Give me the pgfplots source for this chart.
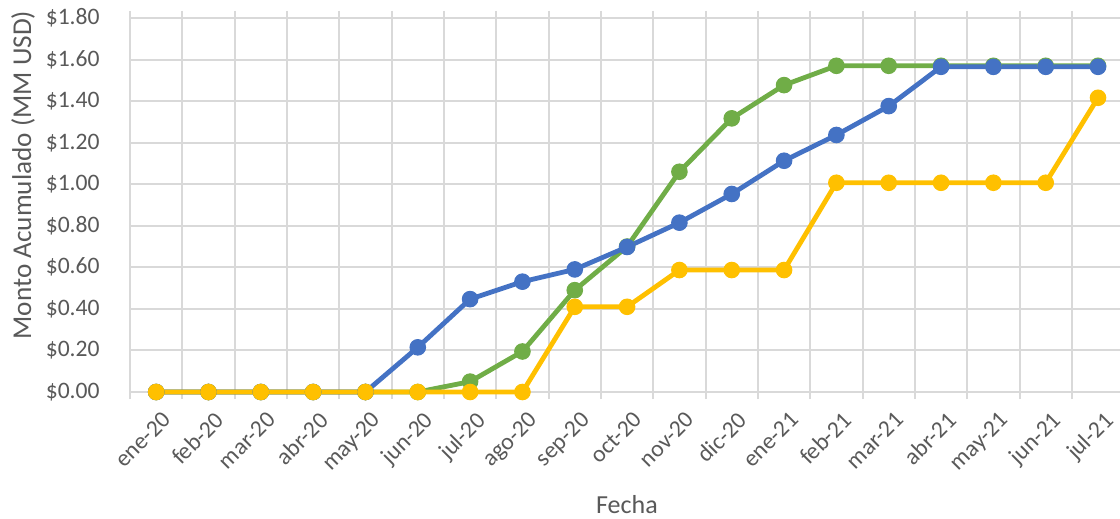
\documentclass[border=0pt]{standalone}
\usepackage{fontspec}
\setmainfont{Carlito}
\usepackage{pgfplots}
\pgfplotsset{compat=1.18}
\definecolor{cblue}{HTML}{4472C4}
\definecolor{cgreen}{HTML}{70AD47}
\definecolor{cyellow}{HTML}{FFC000}
\definecolor{gridgray}{HTML}{D9D9D9}
\definecolor{txtgray}{HTML}{595959}
\begin{document}
\begin{tikzpicture}
\begin{axis}[
  at={(0,0)}, anchor=south west,
  scale only axis, width=495pt, height=187pt,
  xmin=-0.5, xmax=18.42, ymin=0, ymax=1.8,
  clip=false,
  axis line style={draw=none},
  grid=major,
  major grid style={color=gridgray, line width=1pt},
  xtick={-0.5,0.5,...,17.5},
  xticklabels={},
  tick align=outside,
  major tick length=3.5pt,
  xtick style={color=gridgray, line width=1pt},
  ytick style={draw=none},
  ytick={0,0.2,...,1.8},
  yticklabels={\$0.00,\$0.20,\$0.40,\$0.60,\$0.80,\$1.00,\$1.20,\$1.40,\$1.60,\$1.80},
  yticklabel style={anchor=east, inner sep=0pt, xshift=-11.5pt, font=\fontsize{11.8}{13}\selectfont, text=txtgray},
  extra x ticks={0,1,...,18},
  extra x tick labels={ene-20,feb-20,mar-20,abr-20,may-20,jun-20,jul-20,ago-20,sep-20,oct-20,nov-20,dic-20,ene-21,feb-21,mar-21,abr-21,may-21,jun-21,jul-21},
  extra x tick style={grid=none, major tick length=0pt, tick style={draw=none},
    xticklabel style={anchor=north east, inner sep=0pt, xshift=2.5pt, yshift=-9pt, rotate=45, font=\fontsize{11.8}{13}\selectfont, text=txtgray}},
  xlabel={Fecha},
  xlabel style={at={(rel axis cs:0.502,0)}, anchor=center, yshift=-56.5pt, font=\fontsize{13}{15}\selectfont, text=txtgray},
  ylabel={Monto Acumulado (MM USD)},
  ylabel style={at={(rel axis cs:0,0.58)}, anchor=center, yshift=53.5pt, font=\fontsize{13.6}{15}\selectfont, text=txtgray},
  every axis plot/.append style={line width=2.4pt, mark=*, mark size=3.9pt},
]
\addplot[color=cgreen, mark options={fill=cgreen, draw=cgreen, line width=0.5pt}] coordinates {
(0,0) (1,0) (2,0) (3,0) (4,0) (5,0) (6,0.05) (7,0.195) (8,0.49) (9,0.70)
(10,1.06) (11,1.317) (12,1.477) (13,1.57) (14,1.57) (15,1.57) (16,1.57) (17,1.57) (18,1.57)};
\addplot[color=cblue, mark options={fill=cblue, draw=cblue, line width=0.5pt}] coordinates {
(0,0) (1,0) (2,0) (3,0) (4,0) (5,0.215) (6,0.447) (7,0.531) (8,0.59) (9,0.698)
(10,0.815) (11,0.953) (12,1.113) (13,1.237) (14,1.376) (15,1.565) (16,1.565) (17,1.565) (18,1.565)};
\addplot[color=cyellow, mark options={fill=cyellow, draw=cyellow, line width=0.5pt}] coordinates {
(0,0) (1,0) (2,0) (3,0) (4,0) (5,0) (6,0) (7,0) (8,0.41) (9,0.41)
(10,0.587) (11,0.587) (12,0.587) (13,1.007) (14,1.007) (15,1.007) (16,1.007) (17,1.007) (18,1.416)};
\end{axis}
\pgfresetboundingbox
\path (-65pt,-63.5pt) rectangle (495pt,196pt);
\end{tikzpicture}
\end{document}
